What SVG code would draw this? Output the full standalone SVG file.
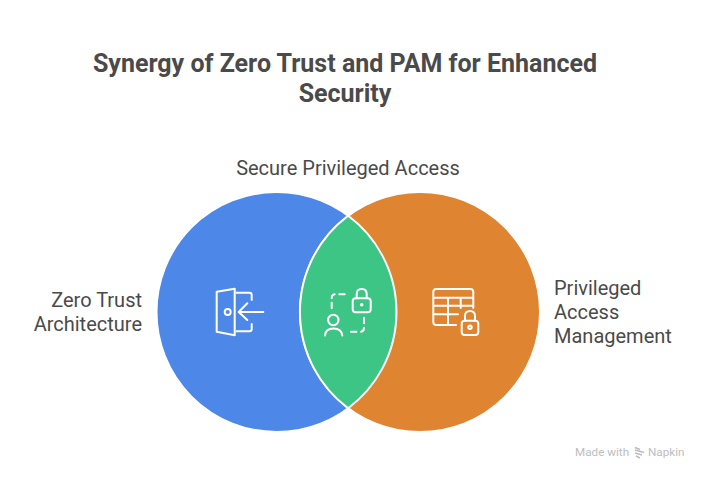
<svg xmlns="http://www.w3.org/2000/svg" width="708" height="480" viewBox="0 0 708 480">
<style>
text{font-family:Roboto,"Liberation Sans",sans-serif;fill:#4a4a4a}
.t{font-size:25px;font-weight:700;text-anchor:middle}
.l{font-size:20px}
.i{fill:none;stroke:#fff;stroke-width:2;stroke-linecap:round;stroke-linejoin:round}
.c{stroke:#fff;stroke-width:2}
</style>
<rect width="708" height="480" fill="#fff"/>
<g id="title"><text class="t" x="345" y="72">Synergy of Zero Trust and PAM for Enhanced</text><text class="t" x="345" y="102">Security</text></g>
<g id="zero-trust">
<circle class="c" cx="276.5" cy="312" r="120" fill="#4d88e8"/>
<g class="i"><path d="M216.7 291.7L234.7 288.7V335.3L216.7 331.7Z"/><circle cx="227.7" cy="312" r="3"/><path d="M236.5 292.7H249.5Q251.7 292.7 251.7 295V300M251.7 324V329Q251.7 331.3 249.5 331.3H236.5M263.3 312H239.3M247.3 303.3L238.7 312L247.3 320"/></g>
<text class="l" text-anchor="end" x="142" y="307">Zero Trust</text><text class="l" text-anchor="end" x="142" y="331">Architecture</text>
</g>
<g id="pam">
<circle class="c" cx="420" cy="312" r="120" fill="#df8431"/>
<g class="i"><path d="M456 325H436.3Q433.3 325 433.3 322V292Q433.3 289 436.3 289H470.3Q473.3 289 473.3 292V308M433.3 297.7H473.3M433.3 305.7H473.3M433.3 314.3H458M448 297.7V325M460.7 297.7V308"/><rect x="461.7" y="320.7" width="16.6" height="14.3" rx="3"/><path d="M465 320.7V316Q465 311 470 311Q475 311 475 316V320.7"/><circle cx="470" cy="327.3" r="1.7"/></g>
<text class="l" x="554" y="295">Privileged</text><text class="l" x="554" y="319">Access</text><text class="l" x="554" y="343">Management</text>
</g>
<g id="secure-access">
<path class="c" d="M348.2 215.8A120 120 0 0 1 348.2 408.2A120 120 0 0 1 348.2 215.8Z" fill="#3dc585"/>
<g class="i"><rect x="352.7" y="298.3" width="18" height="14" rx="3"/><path d="M356.7 298.3V294Q356.7 289 361.7 289Q366.7 289 366.7 294V298.3"/><circle cx="361.7" cy="304.7" r=".8"/><path stroke-dasharray="5.5 4.5" d="M331.7 308.3V298Q331.7 294.3 335.4 294.3H348M364 317.7V328Q364 331.7 360.3 331.7H348.3"/><circle cx="333.3" cy="320" r="5.2"/><path d="M325 335.5Q325.5 328.5 333.5 328.5Q341.5 328.5 342.3 335.5"/></g>
<text class="l" text-anchor="middle" x="348" y="175">Secure Privileged Access</text>
</g>
<g id="watermark"><text x="575" y="456" font-size="11.7" style="fill:#bdbdbd">Made with</text><g fill="none" stroke="#bdbdbd" stroke-width="1.5"><path d="M635 447.5L640 449.5M635 450L644 452.5M635 453L642 455M636 456L640 458"/></g><text x="648" y="456" font-size="11.7" style="fill:#bdbdbd">Napkin</text></g>
</svg>
